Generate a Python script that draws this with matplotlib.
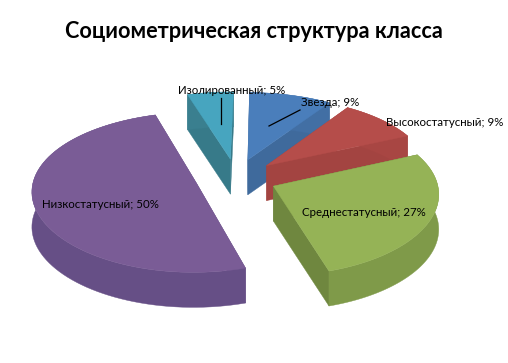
import numpy as np
import matplotlib
matplotlib.use("Agg")
import matplotlib.pyplot as plt
from matplotlib.patches import Polygon

title = "Социометрическая структура класса"
categories = ["Звезда", "Высокостатусный", "Среднестатусный", "Низкостатусный", "Изолированный"]
values = [9, 9, 27, 50, 5]
top_colors = ["#4A7EBB", "#B54D4A", "#95B356", "#7A5C96", "#47A5BF"]
wall_colors = ["#426FA4", "#A84643", "#7F9A49", "#664F86", "#3A7F8F"]
side_colors = ["#3F6A9C", "#A34441", "#6F873F", "#664F86", "#377A89"]
draw_order = [4, 0, 1, 3, 2]
label_pos = [(301, 102), (386, 122), (302, 212), (42, 205), (178, 91)]
leaders = [((300, 110), (269, 126)), None, None, None, ((221, 98), (221, 124))]

U0, V0, A0, B0, CAM_X, CAM_Y, DEPTH, EXPLODE = 236, 178, 163, 78, 12.0, 9.5, 35, 0.25
ROT = np.deg2rad(1.0)


def project(x, y, z=0.0):
    wx = CAM_X / (CAM_X + y)
    wy = CAM_Y / (CAM_Y + y)
    return np.column_stack([U0 + A0 * x * wx, V0 - B0 * y * wy + DEPTH * z])


fig = plt.figure(figsize=(5.08, 3.63), dpi=100)
ax = fig.add_axes([0, 0, 1, 1])
ax.set_xlim(0, 508)
ax.set_ylim(363, 0)
ax.axis("off")

fracs = np.array(values) / sum(values)
edges = np.concatenate([[0], np.cumsum(fracs)]) * 2 * np.pi + ROT

for i in draw_order:
    t0, t1 = edges[i], edges[i + 1]
    mid = (t0 + t1) / 2
    cx, cy = EXPLODE * np.sin(mid), EXPLODE * np.cos(mid)
    t = np.linspace(t0, t1, 80)
    ax_x, ax_y = cx + np.sin(t), cy + np.cos(t)
    arc_top = project(ax_x, ax_y, 0)
    arc_bot = project(ax_x, ax_y, 1)
    apex_top = project(np.array([cx]), np.array([cy]), 0)
    apex_bot = project(np.array([cx]), np.array([cy]), 1)
    for a_t, a_b in ((arc_top[0], arc_bot[0]), (arc_top[-1], arc_bot[-1])):
        quad = np.array([apex_top[0], a_t, a_b, apex_bot[0]])
        ax.add_patch(Polygon(quad, closed=True, fc=side_colors[i], ec=side_colors[i], lw=0.3))
    ax.add_patch(Polygon(np.vstack([arc_top, arc_bot[::-1]]), closed=True,
                         fc=wall_colors[i], ec=wall_colors[i], lw=0.3))
    ax.add_patch(Polygon(np.vstack([apex_top, arc_top]), closed=True,
                         fc=top_colors[i], ec=top_colors[i], lw=0.3))

for name, v, pos, ld in zip(categories, values, label_pos, leaders):
    ax.text(pos[0], pos[1], f"{name}; {v}%", family="Lato", fontsize=8.3,
            color="black", ha="left", va="center")
    if ld:
        ax.plot([ld[0][0], ld[1][0]], [ld[0][1], ld[1][1]], color="black", lw=0.9)

ax.text(254, 31, title, family="Lato", fontweight="bold", fontsize=15.6,
        color="black", ha="center", va="center")
fig.savefig("out.png", dpi=100)
